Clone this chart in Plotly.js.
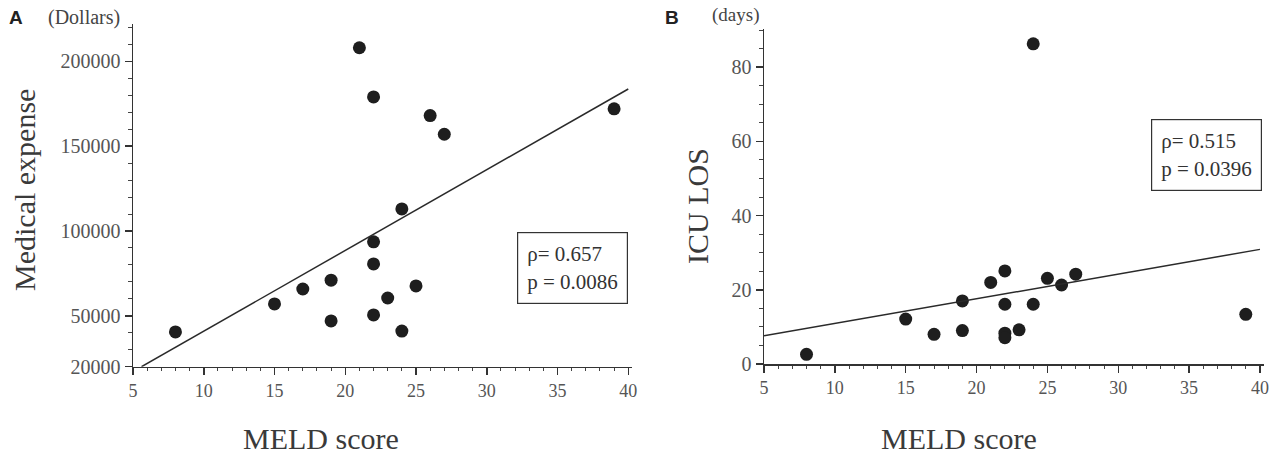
<!DOCTYPE html>
<html>
<head>
<meta charset="utf-8">
<script src="https://cdn.plot.ly/plotly-3.0.1.min.js"></script>
<style>html,body{margin:0;padding:0;background:#fff;}#chart{width:1286px;height:457px;}</style>
</head>
<body>
<div id="chart"></div>
<script>
// Panel A: MELD score vs medical expense (Dollars)
const meldA = [8, 15, 17, 19, 19, 21, 22, 22, 22, 22, 23, 24, 24, 25, 26, 27, 39];
const expenseA = [40500, 57000, 65800, 71000, 47000, 208000, 179000, 93600, 80600, 50500, 60500, 113000, 41000, 67600, 168000, 157000, 172000];
const fitXA = [5.6, 40];
const fitYA = [20000, 183700];
const yTicksA = [20000, 50000, 100000, 150000, 200000];
const yTickTextA = ["20000", "50000", "100000", "150000", "200000"];

// Panel B: MELD score vs ICU LOS (days)
const meldB = [8, 15, 17, 19, 19, 21, 22, 22, 22, 22, 23, 24, 24, 25, 26, 27, 39];
const losB = [2.6, 12.1, 8.0, 17.0, 9.0, 22.0, 25.1, 16.1, 8.3, 7.1, 9.2, 86.3, 16.1, 23.1, 21.3, 24.2, 13.4];
const fitXB = [5, 40];
const fitYB = [7.6, 30.9];
const yTicksB = [0, 20, 40, 60, 80];

const xTicks = [5, 10, 15, 20, 25, 30, 35, 40];

const serif = "Liberation Serif, Times New Roman, serif";
const ink = "#1e1e1e";
const tickCol = "#555";

const traces = [
  {x: meldA, y: expenseA, type: "scatter", mode: "markers", xaxis: "x", yaxis: "y",
   marker: {size: 13, color: ink}, showlegend: false, hoverinfo: "x+y"},
  {x: fitXA, y: fitYA, type: "scatter", mode: "lines", xaxis: "x", yaxis: "y",
   line: {color: "#2a2a2a", width: 1.5}, showlegend: false, hoverinfo: "skip"},
  {x: meldB, y: losB, type: "scatter", mode: "markers", xaxis: "x2", yaxis: "y2",
   marker: {size: 13, color: ink}, showlegend: false, hoverinfo: "x+y"},
  {x: fitXB, y: fitYB, type: "scatter", mode: "lines", xaxis: "x2", yaxis: "y2",
   line: {color: "#2a2a2a", width: 1.5}, showlegend: false, hoverinfo: "skip"}
];

function xAxis(domain, anchor) {
  return {
    domain: domain, anchor: anchor, range: [5, 40.3],
    showgrid: false, zeroline: false,
    showline: true, linecolor: "#333", linewidth: 1.5,
    tickmode: "array", tickvals: xTicks, ticktext: xTicks.map(String),
    ticks: "outside", ticklen: 7, tickwidth: 1.5, tickcolor: "#333",
    tickfont: {family: serif, size: 18, color: tickCol},
    minor: {tickmode: "linear", tick0: 5, dtick: 1, ticks: "outside", ticklen: 3, tickwidth: 1, tickcolor: "#444", showgrid: false}
  };
}

function yAxis(domain, anchor, range, tickvals, ticktext, minorDt, tick0) {
  return {
    domain: domain, anchor: anchor, range: range,
    showgrid: false, zeroline: false,
    showline: true, linecolor: "#333", linewidth: 1.5,
    tickmode: "array", tickvals: tickvals, ticktext: ticktext,
    ticks: "outside", ticklen: 7, tickwidth: 1.5, tickcolor: "#333",
    tickfont: {family: serif, size: 20, color: tickCol},
    minor: {tickmode: "linear", tick0: tick0, dtick: minorDt, ticks: "outside", ticklen: 4, tickwidth: 1, tickcolor: "#444", showgrid: false}
  };
}

const W = 1286, H = 457;
const px = v => v / W;
const py = v => 1 - v / H;

const annotations = [
  {text: "<b>A</b>", xref: "paper", yref: "paper", x: px(16), y: py(18), xanchor: "center", yanchor: "middle",
   showarrow: false, font: {family: "Liberation Sans, Arial, sans-serif", size: 19, color: "#222"}},
  {text: "(Dollars)", xref: "paper", yref: "paper", x: px(84), y: py(18), xanchor: "center", yanchor: "middle",
   showarrow: false, font: {family: serif, size: 20, color: "#444"}},
  {text: "<b>B</b>", xref: "paper", yref: "paper", x: px(672), y: py(18), xanchor: "center", yanchor: "middle",
   showarrow: false, font: {family: "Liberation Sans, Arial, sans-serif", size: 19, color: "#222"}},
  {text: "(days)", xref: "paper", yref: "paper", x: px(735), y: py(15), xanchor: "center", yanchor: "middle",
   showarrow: false, font: {family: serif, size: 19, color: "#444"}},
  {text: "Medical expense", xref: "paper", yref: "paper", x: px(25), y: py(190), xanchor: "center", yanchor: "middle",
   textangle: -90, showarrow: false, font: {family: serif, size: 30, color: "#3a3a3a"}},
  {text: "ICU LOS", xref: "paper", yref: "paper", x: px(697), y: py(206), xanchor: "center", yanchor: "middle",
   textangle: -90, showarrow: false, font: {family: serif, size: 30, color: "#3a3a3a"}},
  {text: "MELD score", xref: "paper", yref: "paper", x: px(321), y: py(438), xanchor: "center", yanchor: "middle",
   showarrow: false, font: {family: serif, size: 30, color: "#3a3a3a"}},
  {text: "MELD score", xref: "paper", yref: "paper", x: px(959), y: py(438), xanchor: "center", yanchor: "middle",
   showarrow: false, font: {family: serif, size: 30, color: "#3a3a3a"}},
  {text: "ρ= 0.657<br>p = 0.0086", xref: "paper", yref: "paper", x: px(572), y: py(267.5), xanchor: "center", yanchor: "middle",
   align: "left", showarrow: false, font: {family: serif, size: 21, color: "#333"},
   bordercolor: "#333", borderwidth: 1.2, borderpad: 9, bgcolor: "#fff"},
  {text: "ρ= 0.515<br>p = 0.0396", xref: "paper", yref: "paper", x: px(1206.5), y: py(155), xanchor: "center", yanchor: "middle",
   align: "left", showarrow: false, font: {family: serif, size: 21, color: "#333"},
   bordercolor: "#333", borderwidth: 1.2, borderpad: 9, bgcolor: "#fff"}
];

const layout = {
  width: W, height: H,
  margin: {l: 0, r: 0, t: 0, b: 0},
  paper_bgcolor: "#fff", plot_bgcolor: "rgba(0,0,0,0)",
  showlegend: false,
  xaxis: xAxis([px(133), px(133 + 35.3 * 14.15)], "y"),
  yaxis: yAxis([1 - 366.7 / H, 1 - 24 / H], "x", [20000, 222000], yTicksA, yTickTextA, 10000, 20000),
  xaxis2: xAxis([px(764), px(764 + 35.3 * 14.17)], "y2"),
  yaxis2: yAxis([1 - 364 / H, 1 - 29 / H], "x2", [0, 90.3], yTicksB, yTicksB.map(String), 5, 0),
  annotations: annotations
};

Plotly.newPlot("chart", traces, layout, {displayModeBar: false, staticPlot: true});
</script>
</body>
</html>
